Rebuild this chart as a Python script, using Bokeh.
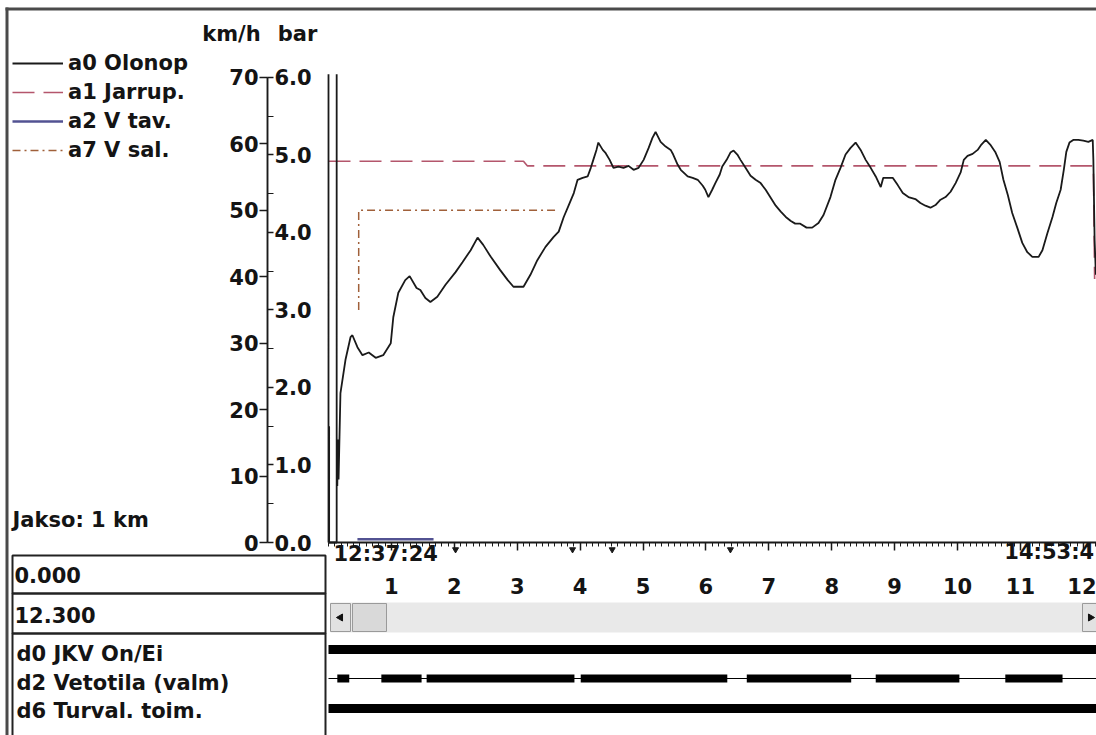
import numpy as np
from bokeh.plotting import figure
from bokeh.models import (Range1d, LinearAxis, FixedTicker, PrintfTickFormatter,
                          Label, Legend, LegendItem)
from bokeh.embed import file_html
from bokeh.resources import INLINE

# ---------------- data ----------------
km_ticks = [1, 2, 3, 4, 5, 6, 7, 8, 9, 10, 11, 12]
km_minor = [i / 10 for i in range(0, 124)]
kmh_ticks = [0, 10, 20, 30, 40, 50, 60, 70]
bar_ticks = [0, 1, 2, 3, 4, 5, 6]
bar_minor = [0.5, 1.5, 2.5, 3.5, 4.5, 5.5]
km_end = 12.3

# a0 Olonop (actual speed, km/h)
a0_km = [0.00, 0.00, 0.00, 0.00, 0.01, 0.01, 0.13, 0.13, 0.13, 0.14, 0.15, 0.16,
         0.19, 0.27, 0.35, 0.38, 0.46, 0.54, 0.64, 0.75, 0.87, 0.99, 1.03, 1.11,
         1.22, 1.29, 1.40, 1.46, 1.54, 1.62, 1.73, 1.86, 2.02, 2.13, 2.26, 2.37,
         2.46, 2.58, 2.73, 2.85, 2.94, 3.10, 3.21, 3.32, 3.45, 3.58, 3.66, 3.74,
         3.82, 3.90, 3.96, 4.04, 4.12, 4.17, 4.21, 4.26, 4.29, 4.36, 4.40, 4.47,
         4.53, 4.61, 4.69, 4.77, 4.85, 4.93, 5.01, 5.09, 5.15, 5.20, 5.28, 5.36,
         5.44, 5.48, 5.55, 5.60, 5.71, 5.79, 5.87, 5.95, 5.99, 6.04, 6.10, 6.15,
         6.22, 6.26, 6.33, 6.39, 6.44, 6.50, 6.55, 6.63, 6.71, 6.79, 6.87, 6.95,
         7.03, 7.11, 7.19, 7.27, 7.35, 7.42, 7.50, 7.60, 7.69, 7.79, 7.87, 7.98,
         8.06, 8.14, 8.22, 8.30, 8.38, 8.46, 8.54, 8.62, 8.70, 8.78, 8.82, 8.90,
         8.97, 9.05, 9.13, 9.22, 9.33, 9.41, 9.49, 9.57, 9.65, 9.73, 9.81, 9.89,
         9.97, 10.05, 10.10, 10.16, 10.24, 10.32, 10.38, 10.45, 10.52, 10.60, 10.67, 10.73,
         10.80, 10.87, 10.95, 11.03, 11.11, 11.19, 11.29, 11.35, 11.43, 11.51, 11.57, 11.64,
         11.69, 11.73, 11.78, 11.84, 11.92, 12.00, 12.08, 12.15, 12.16, 12.18, 12.20]
a0_kmh = [0, 70.5, 17.5, 10.3, 17.5, 0, 0, 70.5, 16.0, 8.5, 15.5, 9.5,
          22.5, 27.5, 30.9, 31.2, 29.4, 28.2, 28.6, 27.8, 28.2, 30.0, 33.9, 37.6,
          39.5, 40.1, 38.3, 38.0, 36.8, 36.2, 37.0, 38.8, 40.7, 42.2, 44.0, 45.9,
          44.8, 43.0, 41.0, 39.5, 38.5, 38.5, 40.3, 42.5, 44.5, 46.0, 46.8, 49.0,
          50.8, 52.6, 54.6, 54.9, 55.1, 56.4, 57.6, 59.1, 60.2, 59.1, 58.7, 57.6,
          56.4, 56.6, 56.4, 56.7, 56.1, 56.4, 57.6, 59.4, 60.9, 61.8, 60.3, 59.6,
          59.1, 58.4, 56.9, 56.1, 55.1, 54.9, 54.6, 53.7, 53.1, 52.0, 53.1, 54.1,
          55.4, 56.6, 57.6, 58.7, 59.0, 58.4, 57.6, 56.4, 55.2, 54.6, 54.1, 53.1,
          51.9, 50.7, 49.8, 49.0, 48.4, 48.0, 48.0, 47.4, 47.4, 48.1, 49.3, 52.0,
          54.6, 56.4, 58.4, 59.4, 60.2, 59.1, 57.6, 56.4, 55.1, 53.5, 54.9, 54.9,
          54.9, 53.8, 52.6, 52.0, 51.7, 51.1, 50.7, 50.4, 50.8, 51.6, 52.0, 52.8,
          54.1, 55.7, 57.6, 58.2, 58.5, 59.1, 59.9, 60.6, 59.9, 58.8, 57.3, 54.6,
          52.3, 49.6, 47.4, 45.1, 43.7, 43.0, 43.0, 44.0, 46.6, 49.0, 51.1, 53.1,
          56.1, 58.8, 60.2, 60.6, 60.6, 60.5, 60.3, 60.6, 57.6, 45.5, 40.3]

# a1 Jarrup. (brake pressure, bar)
a1_km = [0.00, 3.10, 3.16, 12.16, 12.18]
a1_bar = [4.92, 4.92, 4.86, 4.86, 3.40]

# a2 V tav. (target speed, km/h)
a2_km = [0.46, 1.67]
a2_kmh = [0.5, 0.5]

# a7 V sal. (allowed speed, km/h)
a7_km = [0.48, 0.48, 3.66]
a7_kmh = [35, 50, 50]

# event marks on the time axis (km)
events_km = [2.02, 3.88, 4.51, 6.39]

# digital channels: on-intervals (km)
d0_start, d0_end = [0.0], [12.3]
d2_start = [0.14, 0.84, 1.56, 4.01, 6.65, 8.70, 10.76]
d2_end = [0.33, 1.48, 3.91, 6.34, 8.31, 10.03, 11.67]
d6_start, d6_end = [0.0], [12.3]

start_time = "12:37:24"
end_time = "14:53:4"
range_start = "0.000"
range_end = "12.300"
period_text = "Jakso: 1 km"
digital_names = ["d0 JKV On/Ei", "d2 Vetotila (valm)", "d6 Turval. toim."]

# ---------------- layout (screen px of the window) ----------------
W, H = 1096, 735
KM0_PX, PX_PER_KM = 328.0, 62.9
V0_PX, PX_PER_KMH = 542.0, 6.643
KMH_TO_BAR = 6.0 / 70.0


def X(px):
    return (px - KM0_PX) / PX_PER_KM


def Y(py):
    return (V0_PX - py) / PX_PER_KMH


FONT = "DejaVu Sans"
FS = "21px"
INK = "#1a1a1a"
TXT = "#141414"

p = figure(width=W, height=H, output_backend="svg", toolbar_location=None,
           x_range=Range1d(X(0), X(W)), y_range=Range1d(Y(H), Y(0)),
           x_axis_location=None, y_axis_location=None, min_border=0,
           outline_line_color=None, background_fill_color="white",
           border_fill_color="white")
p.extra_y_ranges = {"bar": Range1d(Y(H) * KMH_TO_BAR, Y(0) * KMH_TO_BAR)}
p.xgrid.visible = False
p.ygrid.visible = False

# ---- window frame ----
p.segment(x0=[X(5), X(6.5)], y0=[Y(8.5), Y(7)], x1=[X(W + 5), X(6.5)],
          y1=[Y(8.5), Y(H + 5)], line_color="#4a4a4a", line_width=3)

# ---- axes ----
axis_x = X(267)
common = dict(axis_line_color=INK, axis_line_width=1.5, major_tick_line_color=INK,
              major_tick_line_width=1.5, minor_tick_line_color=INK,
              major_label_text_font=FONT, major_label_text_font_style="bold",
              major_label_text_font_size=FS, major_label_text_color=TXT)

ax_kmh = LinearAxis(fixed_location=axis_x, bounds=(0, 70),
                    ticker=FixedTicker(ticks=kmh_ticks),
                    major_tick_out=8, major_tick_in=0, minor_tick_out=0,
                    minor_tick_in=0, major_label_standoff=1, **common)
p.add_layout(ax_kmh, "left")

ax_bar = LinearAxis(y_range_name="bar", fixed_location=axis_x, bounds=(0, 6),
                    ticker=FixedTicker(ticks=bar_ticks, minor_ticks=bar_minor),
                    formatter=PrintfTickFormatter(format="%.1f"),
                    major_tick_out=6, major_tick_in=0, minor_tick_out=6,
                    minor_tick_in=0, major_label_standoff=1, **common)
p.add_layout(ax_bar, "right")

ax_km = LinearAxis(fixed_location=0, bounds=(0, km_end),
                   ticker=FixedTicker(ticks=km_ticks, minor_ticks=km_minor),
                   major_tick_out=8, major_tick_in=0, minor_tick_out=4,
                   minor_tick_in=0, major_label_standoff=27, **common)
ax_km.axis_line_width = 2
p.add_layout(ax_km, "below")

# ---- series ----
r7 = p.line(a7_km, a7_kmh, line_color="#a0603a", line_width=1.5, line_dash="8 4 2 4")
r1 = p.line(a1_km, a1_bar, y_range_name="bar", line_color="#b4566c", line_width=1.6,
            line_dash="22 9")
r2 = p.line(a2_km, a2_kmh, line_color="#34347f", line_width=2.5, line_alpha=0.85)
r0 = p.line(a0_km, a0_kmh, line_color=INK, line_width=1.8)

p.scatter(x=events_km, y=[Y(549)] * len(events_km), marker="inverted_triangle",
          size=6, color=INK)

legend = Legend(items=[LegendItem(label="a0 Olonop", renderers=[r0]),
                       LegendItem(label="a1 Jarrup.", renderers=[r1]),
                       LegendItem(label="a2 V tav.", renderers=[r2]),
                       LegendItem(label="a7 V sal.", renderers=[r7])],
                location=(12, 573), glyph_width=51, glyph_height=22, label_height=22,
                spacing=5, padding=0, margin=0, label_standoff=5,
                border_line_color=None, background_fill_alpha=0,
                label_text_font=FONT, label_text_font_style="bold",
                label_text_font_size=FS, label_text_color=TXT)
p.add_layout(legend)

# ---- texts ----
def txt(x, y, s, align="left"):
    p.add_layout(Label(x=x, y=y, text=s, text_font=FONT, text_font_style="bold",
                       text_font_size=FS, text_color=TXT, text_baseline="middle",
                       text_align=align))


txt(X(231), Y(33), "km/h", "center")
txt(X(297), Y(33), "bar", "center")
txt(X(12), Y(519), period_text)
p.add_layout(Label(x=0, y=Y(553), x_offset=5, text=start_time, text_font=FONT,
                   text_font_style="bold", text_font_size=FS, text_color=TXT,
                   text_baseline="middle"))
p.add_layout(Label(x=km_end, y=Y(551), x_offset=-8, text=end_time, text_font=FONT,
                   text_font_style="bold", text_font_size=FS, text_color=TXT,
                   text_baseline="middle", text_align="right"))

# ---- value boxes ----
p.quad(left=[X(12), X(12), X(12)], right=[X(325)] * 3,
       top=[Y(555), Y(593), Y(633)], bottom=[Y(593), Y(633), Y(760)],
       fill_color=None, line_color="#222222", line_width=2)
txt(X(14), Y(574), range_start)
txt(X(14), Y(614), range_end)
for name, py in zip(digital_names, [653, 682, 710]):
    txt(X(16), Y(py), name)

# ---- scrollbar ----
p.quad(left=[X(330)], right=[X(1110)], top=[Y(602)], bottom=[Y(632)],
       fill_color="#e9e9e9", line_color=None)
p.quad(left=[X(330), X(352), X(1082)], right=[X(350), X(386), X(1102)],
       top=[Y(603)] * 3, bottom=[Y(631)] * 3,
       fill_color=["#e2e2e2", "#d9d9d9", "#e2e2e2"], line_color="#9a9a9a",
       line_width=1)
p.scatter(x=[X(340), X(1090)], y=[Y(617), Y(617)], marker="triangle",
          angle=[np.pi / 2, -np.pi / 2], size=7, color="#111111")

# ---- digital channels ----
row_y = {"d0": Y(649), "d2": Y(678), "d6": Y(708)}
p.segment(x0=d0_start, x1=d0_end, y0=[row_y["d0"]] * len(d0_start),
          y1=[row_y["d0"]] * len(d0_start), line_color="#000000", line_width=9)
p.segment(x0=[0.0], x1=[km_end], y0=[row_y["d2"]], y1=[row_y["d2"]],
          line_color="#000000", line_width=1.2)
p.segment(x0=d2_start, x1=d2_end, y0=[row_y["d2"]] * len(d2_start),
          y1=[row_y["d2"]] * len(d2_start), line_color="#000000", line_width=8)
p.segment(x0=d6_start, x1=d6_end, y0=[row_y["d6"]] * len(d6_start),
          y1=[row_y["d6"]] * len(d6_start), line_color="#000000", line_width=9)

open("out.html", "w").write(file_html(p, INLINE))
